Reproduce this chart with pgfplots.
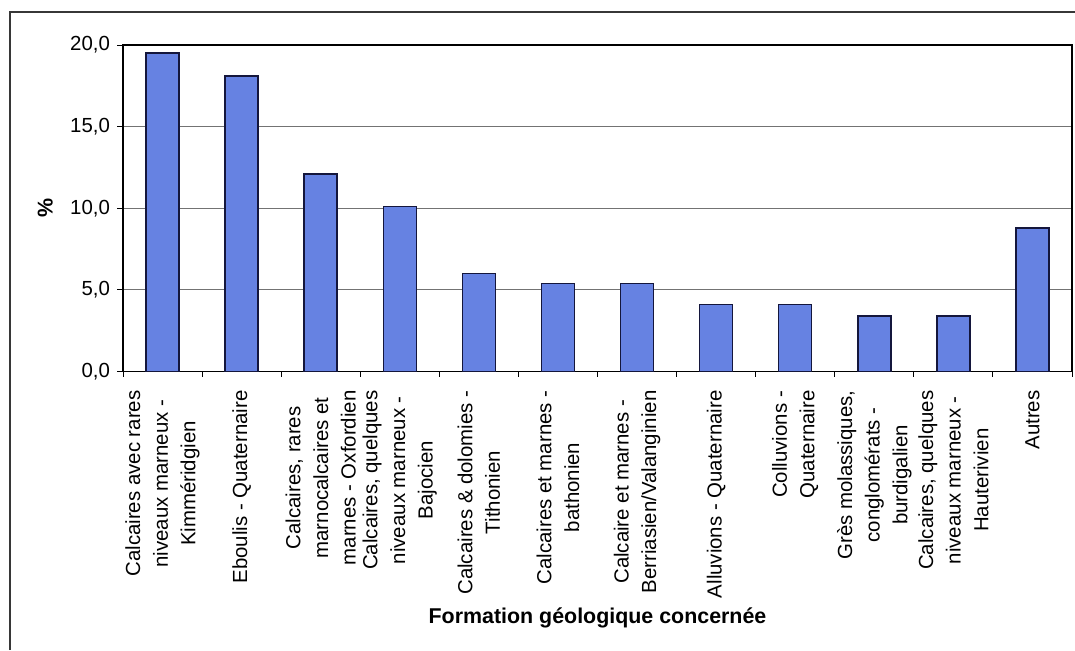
\documentclass[border=0pt]{standalone}
\usepackage{fontspec}
\setmainfont{Liberation Sans}
\usepackage{pgfplots}
\pgfplotsset{compat=1.18}

\definecolor{barfill}{RGB}{102,130,226}
\definecolor{barline}{RGB}{20,22,60}
\definecolor{gridgray}{RGB}{115,115,115}
\definecolor{framegray}{RGB}{55,55,55}

\begin{document}
\begin{tikzpicture}
% page: 537.5pt x 325pt
\path[use as bounding box, fill=white] (0pt,0pt) rectangle (537.5pt,-325pt);
% chart frame (top and left edges)
\draw[framegray, line width=1pt] (5pt,-325pt) -- (5pt,-6pt) -- (537.5pt,-6pt);

\begin{axis}[
  at={(61.5pt,-22.5pt)}, anchor=north west,
  scale only axis, width=474.5pt, height=163.25pt,
  xmin=-0.5, xmax=11.5, ymin=0, ymax=20,
  ytick={0,5,10,15,20},
  xtick={0,...,11},
  minor xtick={-0.5,0.5,...,11.5},
  xticklabels={
    {Calcaires avec rares\\niveaux marneux -\\Kimméridgien},
    {Eboulis - Quaternaire},
    {Calcaires, rares\\marnocalcaires et\\marnes - Oxfordien},
    {Calcaires, quelques\\niveaux marneux -\\Bajocien},
    {Calcaires \& dolomies -\\Tithonien},
    {Calcaires et marnes -\\bathonien},
    {Calcaire et marnes -\\Berriasien/Valanginien},
    {Alluvions - Quaternaire},
    {Colluvions -\\Quaternaire},
    {Grès molassiques,\\conglomérats -\\burdigalien},
    {Calcaires, quelques\\niveaux marneux -\\Hauterivien},
    {Autres}},
  tick pos=left,
  tick align=outside,
  major tick length=3pt,
  minor tick length=2.5pt,
  major x tick style={draw=none},
  tick style={black, line width=0.5pt},
  axis line style={black, line width=0.9pt},
  ymajorgrids,
  grid style={gridgray, line width=0.5pt},
  yticklabel style={font=\fontsize{10.2}{12}\selectfont,
    /pgf/number format/.cd, fixed, fixed zerofill, precision=1, use comma, assume math mode=true},
  xticklabel shift=3pt,
  xticklabel style={rotate=90, anchor=east, align=center, font=\fontsize{10.2}{13.8}\selectfont},
  xlabel={Formation géologique concernée},
  every axis x label/.style={at={(axis description cs:0.5,-0.755)}, anchor=center, font=\bfseries\fontsize{10.7}{12}\selectfont},
  ylabel={\%},
  every axis y label/.style={at={(axis description cs:-0.082,0.5)}, rotate=90, anchor=center, font=\bfseries\fontsize{10.7}{12}\selectfont},
]
\addplot[ybar, bar width=16.5pt, fill=barfill, draw=barline, line width=0.75pt]
  coordinates {(0,19.5) (1,18.1) (2,12.1) (3,10.1) (4,6.0) (5,5.4)
               (6,5.4) (7,4.1) (8,4.1) (9,3.4) (10,3.4) (11,8.8)};
\end{axis}
\end{tikzpicture}
\end{document}
